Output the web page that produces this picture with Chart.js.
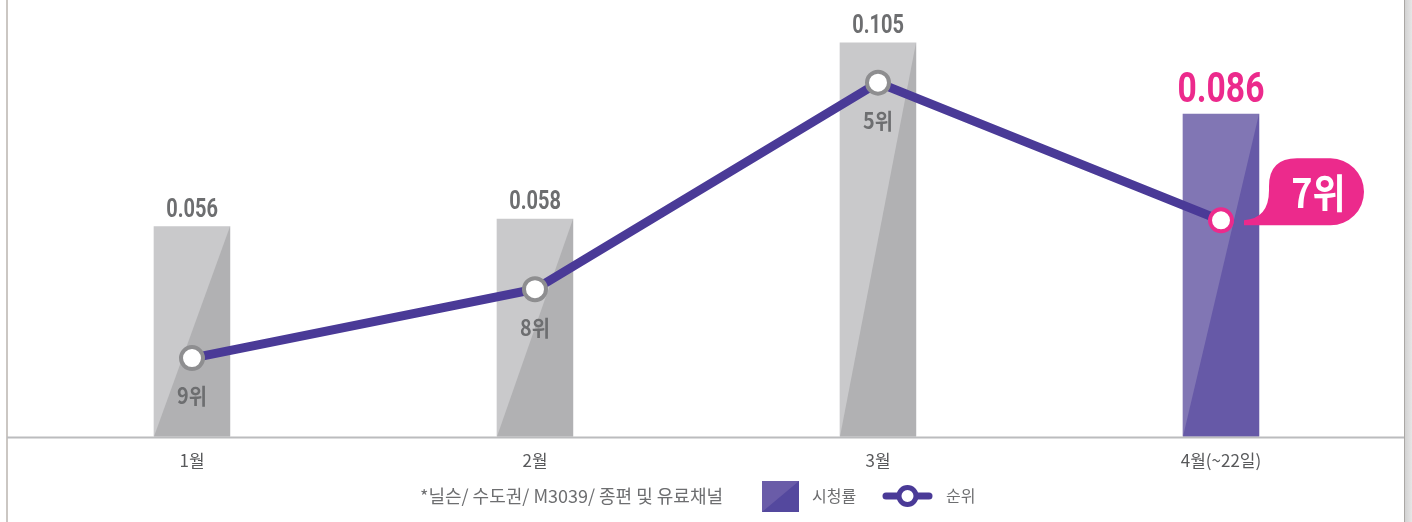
<!DOCTYPE html>
<html><head><meta charset="utf-8">
<script src="https://cdn.jsdelivr.net/npm/chart.js@4"></script>
<style>html,body{margin:0;padding:0;background:#fff;overflow:hidden}#wrap{width:1412px;height:522px;position:relative}</style>
</head><body><div id="wrap"><canvas id="c" width="1412" height="522"></canvas></div>
<script>
const categories = ['1월', '2월', '3월', '4월(~22일)'];
const ratings = [0.056, 0.058, 0.105, 0.086];
const ratingLabels = ['0.056', '0.058', '0.105', '0.086'];
const ranks = [9, 8, 5, 7];
const rankLabels = ['9위', '8위', '5위', '7위'];
const legendNote = '*닐슨/ 수도권/ M3039/ 종편 및 유료채널';
const legendItems = ['시청률', '순위'];

const GRAY_L = '#c9c9cb', GRAY_D = '#b1b1b3';
const PUR_L = '#8176b4', PUR_D = '#6659a7';
const PINK = '#ec2a8c', LINE = '#4a3a97', PT_GRAY = '#8e8e90', TXT = '#6d6e70';
const KFONT = "'Noto Sans CJK KR', 'Noto Sans', sans-serif";
const NFONT = "'Roboto', 'Noto Sans CJK KR', sans-serif";
const hl = ratings.length - 1;

function narrowText(c, text, x, y, sx) {
  c.save();
  c.translate(x, y);
  c.scale(sx, 1);
  c.fillText(text, 0, 0);
  c.restore();
}

const decor = {
  id: 'decor',
  beforeDraw(chart) {
    const c = chart.ctx;
    c.save();
    c.fillStyle = '#fff';
    c.fillRect(0, 0, chart.width, chart.height);
    const g = c.createLinearGradient(1405, 0, 1412, 0);
    g.addColorStop(0, '#d2d2d2'); g.addColorStop(1, '#e6e6e6');
    c.fillStyle = g; c.fillRect(1405, 0, 7, chart.height);
    c.strokeStyle = '#aaa7a4'; c.lineWidth = 1;
    c.beginPath(); c.moveTo(1404.5, 0); c.lineTo(1404.5, chart.height); c.stroke();
    c.strokeStyle = '#cbc7c3'; c.lineWidth = 2;
    c.beginPath(); c.moveTo(7, 0); c.lineTo(7, chart.height); c.stroke();
    c.restore();
  },
  afterDatasetDraw(chart, args) {
    if (args.index !== 0) return;
    const c = chart.ctx;
    c.save();
    chart.getDatasetMeta(0).data.forEach((b, i) => {
      const l = b.x - b.width / 2, r = b.x + b.width / 2;
      c.fillStyle = i === hl ? PUR_D : GRAY_D;
      c.beginPath(); c.moveTo(l, b.base); c.lineTo(r, b.y); c.lineTo(r, b.base); c.closePath(); c.fill();
    });
    c.strokeStyle = '#bbbcbe'; c.lineWidth = 2;
    c.beginPath(); c.moveTo(7, chart.chartArea.bottom + 1); c.lineTo(1404, chart.chartArea.bottom + 1); c.stroke();
    c.restore();
  },
  afterDraw(chart) {
    const c = chart.ctx;
    c.save();
    c.textAlign = 'center'; c.textBaseline = 'alphabetic';
    chart.getDatasetMeta(0).data.forEach((b, i) => {
      if (i === hl) { c.fillStyle = PINK; c.font = "bold 42px " + NFONT; narrowText(c, ratingLabels[i], b.x, b.y - 12, 0.8); }
      else { c.fillStyle = TXT; c.font = "bold 25px " + NFONT; narrowText(c, ratingLabels[i], b.x, b.y - 10, 0.8); }
    });
    const pts = chart.getDatasetMeta(1).data;
    c.textBaseline = 'middle';
    pts.forEach((p, i) => {
      if (i === hl) return;
      c.fillStyle = TXT; c.font = "bold 22px " + KFONT;
      narrowText(c, rankLabels[i], p.x, p.y + 38, 0.9);
    });
    const p = pts[hl];
    const tx = p.x + 23, ty = p.y;
    const L = p.x + 48, R = p.x + 143, T = p.y - 62, B = p.y + 5, rr = (B - T) / 2;
    c.fillStyle = PINK;
    c.beginPath();
    c.moveTo(tx, ty);
    c.quadraticCurveTo(L, ty - 2, L, ty - 30);
    c.lineTo(L, T + 28);
    c.quadraticCurveTo(L, T, L + 28, T);
    c.lineTo(R - rr, T);
    c.arc(R - rr, T + rr, rr, -Math.PI / 2, Math.PI / 2);
    c.lineTo(tx, B);
    c.closePath(); c.fill();
    c.fillStyle = '#fff'; c.font = "bold 40px " + KFONT;
    narrowText(c, rankLabels[hl], (L + R) / 2 + 2, (T + B) / 2 + 1, 0.9);
    c.textAlign = 'left'; c.textBaseline = 'middle';
    c.fillStyle = TXT; c.font = "18px " + KFONT;
    c.fillText(legendNote, 420, 496);
    c.font = "16px " + KFONT;
    c.fillStyle = '#6a5ca8'; c.fillRect(762, 481, 37, 31);
    c.fillStyle = '#54489e';
    c.beginPath(); c.moveTo(762, 512); c.lineTo(799, 481); c.lineTo(799, 512); c.closePath(); c.fill();
    c.fillStyle = TXT; c.fillText(legendItems[0], 812, 496);
    c.strokeStyle = LINE; c.lineWidth = 7; c.lineCap = 'round';
    c.beginPath(); c.moveTo(886, 496); c.lineTo(929, 496); c.stroke();
    c.fillStyle = '#fff'; c.lineWidth = 5;
    c.beginPath(); c.arc(907.5, 496, 8.5, 0, Math.PI * 2); c.fill(); c.stroke();
    c.fillStyle = TXT; c.fillText(legendItems[1], 946, 496);
    c.restore();
  }
};

new Chart(document.getElementById('c'), {
  data: {
    labels: categories,
    datasets: [
      { type: 'bar', label: legendItems[0], data: ratings, yAxisID: 'y',
        backgroundColor: ratings.map((v, i) => i === hl ? PUR_L : GRAY_L), barThickness: 76, order: 2 },
      { type: 'line', label: legendItems[1], data: ranks, yAxisID: 'yRank',
        borderColor: LINE, borderWidth: 9, tension: 0, pointRadius: 11, pointBorderWidth: 4,
        pointBackgroundColor: '#fff', pointBorderColor: ranks.map((v, i) => i === hl ? PINK : PT_GRAY), order: 1 }
    ]
  },
  options: {
    responsive: false, animation: false, events: [],
    layout: { autoPadding: false, padding: { left: 20.5, right: 19.5, top: 0, bottom: 45 } },
    plugins: { legend: { display: false }, tooltip: { enabled: false } },
    scales: {
      x: { grid: { display: false }, border: { display: false },
           ticks: { color: '#58595b', font: { family: KFONT, size: 17 }, padding: 6 } },
      y: { display: false, min: 0, max: 0.1164 },
      yRank: { display: false, reverse: true, min: 3.8, max: 10.14 }
    }
  },
  plugins: [decor]
});
</script></body></html>
